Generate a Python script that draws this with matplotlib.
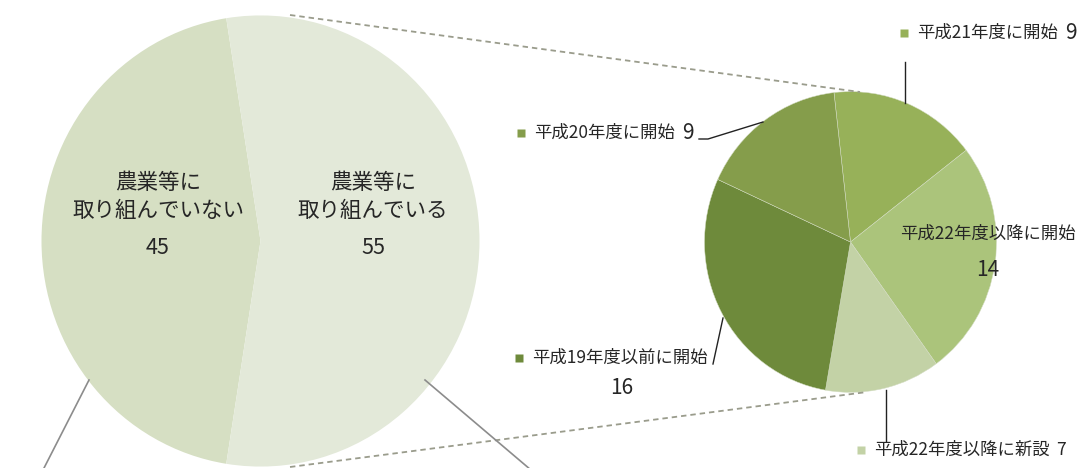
import matplotlib
matplotlib.use("Agg")
import matplotlib.pyplot as plt

plt.rcParams['font.family'] = ['Noto Sans CJK JP', 'DejaVu Sans']

# 全体の内訳
big_labels = ["農業等に\n取り組んでいない", "農業等に\n取り組んでいる"]
big_values = [45, 55]
big_colors = ["#d6dfc3", "#e3e9d9"]

# 取り組んでいる55の内訳（時計回り）
small_labels = ["平成21年度に開始", "平成22年度以降に開始", "平成22年度以降に新設",
                "平成19年度以前に開始", "平成20年度に開始"]
small_values = [9, 14, 7, 16, 9]
small_colors = ["#97b159", "#abc47b", "#c3d2a6", "#6e8a3b", "#859d4b"]

W, H = 1080, 468
SY = 1.03   # 縦方向にわずかに伸びた円

def P(x, y):
    # 画面座標(左上原点) -> データ座標
    return (x, (H - y) / SY)

fig = plt.figure(figsize=(10.8, 4.68), dpi=100)
ax = fig.add_axes([0, 0, 1, 1])

ax.pie(big_values, colors=big_colors, startangle=99, counterclock=True,
       radius=219, center=P(260.5, 241), wedgeprops=dict(linewidth=0))
ax.pie(small_values, colors=small_colors, startangle=96.5, counterclock=False,
       radius=146, center=P(850.5, 242),
       wedgeprops=dict(linewidth=0.35, edgecolor="#d3dcc2"))

ax.set_xlim(0, W)
ax.set_ylim(0, H / SY)
ax.set_aspect('auto')
ax.axis('off')

# 二つの円をつなぐ破線
for (x0, y0), (x1, y1) in [((290, 15), (860, 92)), ((290, 467), (867, 392))]:
    a, b = P(x0, y0), P(x1, y1)
    ax.plot([a[0], b[0]], [a[1], b[1]], color="#9a9c8c", lw=1.3,
            linestyle=(0, (3, 2.2)), zorder=1)

# 左の円の引出線（下にはみ出す）
for (x0, y0), (x1, y1) in [((43, 470), (89, 380)), ((425, 380), (531, 470))]:
    a, b = P(x0, y0), P(x1, y1)
    ax.plot([a[0], b[0]], [a[1], b[1]], color="#8c8c8c", lw=1.2, zorder=3)

txt = "#262626"

# 左の円のラベル
for (cx, cy), lab, v in zip([(158, 197), (373, 197)], big_labels, big_values):
    ax.text(*P(cx, cy), lab, ha='center', va='center', fontsize=15.5,
            linespacing=1.3, color=txt)
    ax.text(*P(cx, 248), str(v), ha='center', va='center', fontsize=15.5,
            color=txt)

# 右の円のラベル
name_fs, val_fs = 12.5, 15

def legend_label(i, mx, my):
    ax.plot(*P(mx, my), marker='s', ms=5.5, color=small_colors[i], mec='none')
    t = ax.text(*P(mx + 13, my), small_labels[i], ha='left', va='center',
                fontsize=name_fs, color=txt)
    return t

t21 = legend_label(0, 904, 33)
ax.annotate(str(small_values[0]), xy=(1, 0.5), xycoords=t21, xytext=(5, 0),
            textcoords='offset points', ha='left', va='center',
            fontsize=val_fs, color=txt)

t20 = legend_label(4, 521, 133)
ax.annotate(str(small_values[4]), xy=(1, 0.5), xycoords=t20, xytext=(5, 0),
            textcoords='offset points', ha='left', va='center',
            fontsize=val_fs, color=txt)

legend_label(3, 519, 358)
ax.text(*P(622, 388), str(small_values[3]), ha='center', va='center',
        fontsize=val_fs, color=txt)

t_new = legend_label(2, 861, 450)
ax.annotate(str(small_values[2]), xy=(1, 0.5), xycoords=t_new, xytext=(5, 0),
            textcoords='offset points', ha='left', va='center',
            fontsize=12.5, color=txt)

ax.text(*P(988, 234), small_labels[1], ha='center', va='center',
        fontsize=name_fs, color=txt)
ax.text(*P(988, 270), str(small_values[1]), ha='center', va='center',
        fontsize=val_fs, color=txt)

# 右の円の引出線
leaders = [
    [(905, 62), (905, 103)],
    [(699, 139), (708, 139), (763, 122)],
    [(713, 364), (723, 318)],
    [(886, 390), (886, 441)],
]
for pts in leaders:
    xy = [P(x, y) for x, y in pts]
    ax.plot([p[0] for p in xy], [p[1] for p in xy], color="#222222", lw=1.0,
            zorder=3)

fig.savefig("out.png", dpi=100, facecolor="white")
